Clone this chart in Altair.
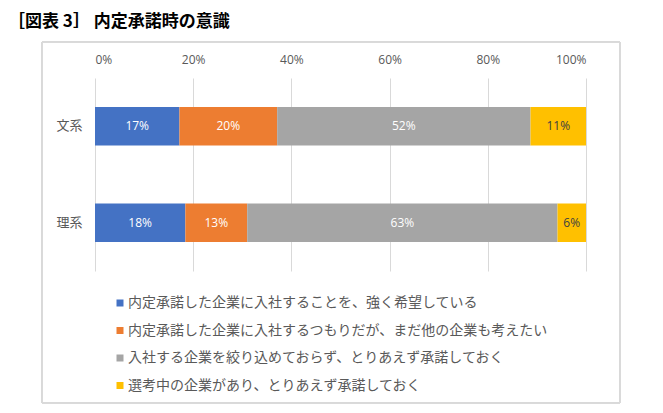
import altair as alt
import pandas as pd

groups = ["文系", "理系"]
categories = [
    "内定承諾した企業に入社することを、強く希望している",
    "内定承諾した企業に入社するつもりだが、まだ他の企業も考えたい",
    "入社する企業を絞り込めておらず、とりあえず承諾しておく",
    "選考中の企業があり、とりあえず承諾しておく",
]
bunkei = [17.2, 19.9, 51.6, 11.3]
rikei = [18.4, 12.6, 63.2, 5.8]
colors = ["#4472C4", "#ED7D31", "#A5A5A5", "#FFC000"]
x_ticks = [0, 20, 40, 60, 80, 100]
title_text = "［図表 3］ 内定承諾時の意識"

rows = []
for g, vals in zip(groups, [bunkei, rikei]):
    for i, (c, v) in enumerate(zip(categories, vals)):
        rows.append({"group": g, "cat": c, "order": i, "value": v})
df = pd.DataFrame(rows)

base = alt.Chart(df).transform_stack(
    stack="value", groupby=["group"], as_=["v0", "v1"],
    sort=[alt.SortField("order", order="ascending")]
)

yenc = alt.Y("group:N", sort=groups, title=None,
             scale=alt.Scale(paddingInner=0.6, paddingOuter=0.3),
             axis=alt.Axis(labelFont="Noto Sans CJK JP", labelFontSize=13,
                           labelColor="#595959", labelPadding=13,
                           domain=False, ticks=False))

bars = base.mark_bar(size=38.6).encode(
    x=alt.X("v0:Q", scale=alt.Scale(domain=[0, 100], nice=False), title=None,
            axis=alt.Axis(orient="top", values=x_ticks,
                          labelExpr="datum.value + '%'",
                          labelFont="Open Sans", labelFontSize=12,
                          labelColor="#595959", labelPadding=12,
                          domain=False, ticks=False, grid=True,
                          gridColor="#D9D9D9", gridWidth=1)),
    x2="v1:Q",
    y=yenc,
    color=alt.Color("cat:N", sort=categories,
                    scale=alt.Scale(domain=categories, range=colors),
                    legend=alt.Legend(
                        title=None, orient="none", legendX=18, legendY=218,
                        direction="vertical", padding=0,
                        symbolType="square", symbolSize=49,
                        symbolStrokeWidth=0, labelOffset=1,
                        labelFont="Noto Sans CJK JP", labelFontSize=14,
                        labelColor="#595959", labelLimit=0,
                        rowPadding=13.5)),
    order=alt.Order("order:Q"),
)

labels = base.transform_calculate(
    mid="(datum.v0 + datum.v1) / 2",
    lbl="format(datum.value, '.0f') + '%'",
).mark_text(font="Open Sans", fontSize=12, baseline="middle", align="center").encode(
    x=alt.X("mid:Q"),
    y=alt.Y("group:N", sort=groups),
    text="lbl:N",
    color=alt.condition(alt.datum.order == 3, alt.value("#404040"), alt.value("white")),
)

frame = alt.Chart(df).mark_rect(fill=None, stroke="#D9D9D9", strokeWidth=1).encode(
    x=alt.value(-53), x2=alt.value(525), y=alt.value(-36), y2=alt.value(325)
)

chart = alt.layer(frame, bars, labels).properties(
    width=491, height=193,
    autosize=alt.AutoSizeParams(type="none"),
    padding={"left": 87, "top": 70, "right": 69, "bottom": 134},
    title=alt.TitleParams(title_text, anchor="start", frame="group",
                          font="Noto Sans CJK JP", fontSize=17, fontWeight="bold",
                          color="#000000", dx=-87, dy=-7),
).configure_view(stroke=None)

chart.save("out.html", embed_options={"renderer": "svg", "actions": False})
